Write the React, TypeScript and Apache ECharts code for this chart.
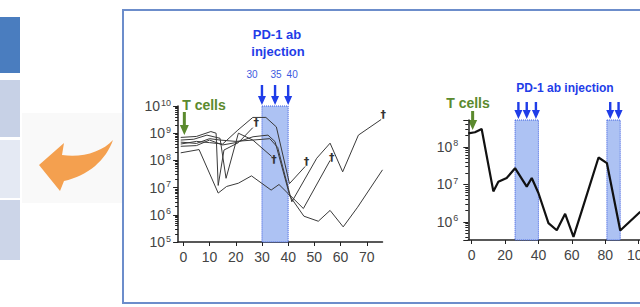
import React, { useEffect, useRef } from "react";
import * as echarts from "echarts";

// ---------- Left panel: six mice, tumour cells vs. days ----------
const leftXTicks = [0, 10, 20, 30, 40, 50, 60, 70];
const leftYRange = [1e5, 1e10];
const leftXRange = [-2, 76];

const mouse1 = [[-1, 7.0e8], [5, 7.6e8], [10.5, 1.15e9], [12.5, 1.0e9], [13.3, 1.2e7], [15.5, 2.4e8], [21, 4.5e8], [26.5, 1.6e9]];
const mouse2 = [[-1, 5.6e8], [4, 6.0e8], [9, 8.5e8], [14, 6.5e8], [16.3, 2.2e7], [21, 1.0e9], [26.5, 5.6e8], [33.7, 1.4e8]];
const mouse3 = [[-1, 4.0e8], [5, 5.0e8], [10, 4.5e8], [15, 4.0e8], [20.8, 1.3e9], [26.5, 3.8e9], [31.5, 3.8e9], [35.5, 1.7e9], [40.5, 1.4e7], [46.5, 6.0e7]];
const mouse4 = [[-1, 3.3e8], [5, 3.5e8], [10, 5.6e8], [15, 3.7e8], [20, 4.5e8], [26.6, 7.4e8], [32.3, 8.5e8], [35, 4.9e8], [40.5, 5.5e6], [45.8, 1.7e6], [56, 1.0e8]];
const mouse5 = [[-1, 4.7e8], [5, 4.2e8], [10, 6.3e8], [14, 5.6e8], [20, 5.0e8], [26.6, 5.6e8], [33, 6.3e8], [36, 3.0e8], [41.4, 3.0e6], [50.9, 1.2e8], [56, 4.3e8], [60.8, 3.8e7], [66.8, 8.5e8], [75.5, 3.2e9]];
const mouse6 = [[-1, 1.9e8], [6, 2.5e8], [13.3, 6.3e6], [16.5, 1.1e7], [21, 1.45e7], [26, 2.7e7], [33.5, 8.1e6], [36.5, 1.3e7], [40, 6.0e6], [46, 8.9e5], [51.5, 5.8e5], [56, 1.45e6], [61, 3.6e5], [66.5, 1.9e6], [76, 4.5e7]];
const leftMice = [mouse1, mouse2, mouse3, mouse4, mouse5, mouse6];
const leftDaggers = [[27.8, 2.4e9], [34.6, 1.1e8], [47, 8.9e7], [56.6, 1.26e8], [76.3, 4.7e9]];
const leftInjectionDays = [30, 35, 40];
const leftInjectionLabels = ["30", "35", "40"];
const leftWindow = [30, 40];

// ---------- Right panel: one mouse ----------
const rightXTicks = [0, 20, 40, 60, 80, 100];
const rightYRange = [3.3e5, 5.2e8];
const rightXRange = [-2, 110];
const rightMouse = [[-2, 2.3e8], [2, 2.45e8], [6, 3.0e8], [13, 6.5e6], [16, 1.17e7], [21, 1.48e7], [26, 2.7e7], [33, 8.7e6], [36, 1.48e7], [40, 5.9e6], [46, 9.3e5], [51, 6.0e5], [56, 1.65e6], [61, 4.0e5], [66, 2.0e6], [76, 5.2e7], [81, 3.7e7], [89, 5.9e5], [101, 1.86e6]];
const rightInjectionDays = [28, 33, 38.5, 83, 88];
const rightWindows = [[26, 40], [81, 89]];
const tCellDay = 0;

const NARROW = "'Liberation Sans Narrow', 'Arial Narrow', 'Liberation Sans', sans-serif";
const SANS = "'Liberation Sans', Arial, sans-serif";
const AXIS_COLOR = "#222";
const LABEL_COLOR = "#444";
const BLUE = "#1f3de8";
const GREEN = "#5b8a2e";
const SHADE = "#adc2f3";

const logLabel = (v: number) => {
  const e = Math.log10(v);
  const r = Math.round(e);
  if (Math.abs(e - r) > 0.001) return "";
  return `{b|10}{s|${r}}`;
};

const yAxisCommon = (gridIndex: number, range: number[], margin: number) => ({
  type: "log",
  logBase: 10,
  gridIndex,
  min: range[0],
  max: range[1],
  axisLine: { show: true, onZero: false, lineStyle: { color: AXIS_COLOR, width: 1.5 } },
  axisTick: { show: true, length: 5, lineStyle: { color: AXIS_COLOR } },
  minorTick: { show: true, splitNumber: 9, length: 3, lineStyle: { color: AXIS_COLOR } },
  splitLine: { show: false },
  axisLabel: {
    formatter: logLabel,
    margin,
    rich: {
      b: { fontSize: 14, fontFamily: NARROW, color: LABEL_COLOR },
      s: { fontSize: 9, fontFamily: NARROW, color: LABEL_COLOR, verticalAlign: "top", padding: [0, 0, 7, 1] },
    },
  },
});

const xAxisCommon = (gridIndex: number, range: number[], ticks: number[]) => ({
  type: "value",
  gridIndex,
  min: range[0],
  max: range[1],
  axisLine: { show: true, onZero: false, lineStyle: { color: AXIS_COLOR, width: 1.5 } },
  axisTick: { show: true, length: 4, customValues: ticks, lineStyle: { color: AXIS_COLOR } },
  axisLabel: { customValues: ticks, fontSize: 14, fontFamily: NARROW, color: LABEL_COLOR, margin: 8 },
  splitLine: { show: false },
});

const shadeStyle = { color: SHADE, borderColor: "#3558e0", borderWidth: 1, borderType: "dotted", opacity: 1 };

const option = {
  animation: false,
  backgroundColor: "#fff",
  grid: [
    { left: 178.1, top: 106, width: 204.4, height: 136 },
    { left: 468.3, top: 120, width: 187.0, height: 120 },
  ],
  xAxis: [xAxisCommon(0, leftXRange, leftXTicks), xAxisCommon(1, rightXRange, rightXTicks)],
  yAxis: [yAxisCommon(0, leftYRange, 7), yAxisCommon(1, rightYRange, 10)],
  series: [
    ...leftMice.map((d, i) => ({
      type: "line",
      xAxisIndex: 0,
      yAxisIndex: 0,
      data: d,
      symbol: "none",
      silent: true,
      lineStyle: { color: "#3a3a3a", width: 1 },
      markArea:
        i === 0
          ? {
              silent: true,
              itemStyle: shadeStyle,
              data: [[{ xAxis: leftWindow[0], yAxis: leftYRange[1] }, { xAxis: leftWindow[1], yAxis: leftYRange[0] }]],
            }
          : undefined,
    })),
    {
      type: "line",
      xAxisIndex: 1,
      yAxisIndex: 1,
      data: rightMouse,
      symbol: "none",
      silent: true,
      lineStyle: { color: "#111", width: 2.2 },
      markArea: {
        silent: true,
        itemStyle: shadeStyle,
        data: rightWindows.map((w) => [
          { xAxis: w[0], yAxis: rightYRange[1] },
          { xAxis: w[1], yAxis: rightYRange[0] },
        ]),
      },
    },
  ],
};

const downArrow = (cx: number, top: number, bottom: number, color: string, shaftW: number, headW: number, headH: number) => ({
  type: "polygon",
  silent: true,
  shape: {
    points: [
      [cx - shaftW / 2, top],
      [cx + shaftW / 2, top],
      [cx + shaftW / 2, bottom - headH],
      [cx + headW / 2, bottom - headH],
      [cx, bottom],
      [cx - headW / 2, bottom - headH],
      [cx - shaftW / 2, bottom - headH],
    ],
  },
  style: { fill: color },
});

const text = (t: string, x: number, y: number, font: string, fill: string) => ({
  type: "text",
  x,
  y,
  silent: true,
  z: 10,
  style: { text: t, font, fill, textAlign: "center", textVerticalAlign: "middle" },
});

const ARROW_PATH = "M39 165 L64 143 L62 155 C82 158 102 152 113 140 C106 160 88 176 64 181 L60 191 Z";
let registered = false;

export default function App() {
  const ref = useRef<HTMLDivElement>(null);
  useEffect(() => {
    if (!ref.current) return;
    if (!registered) {
      echarts.graphic.registerShape("orangeArrow", echarts.graphic.extendPath(ARROW_PATH, {}));
      registered = true;
    }
    const chart = echarts.init(ref.current, null, { renderer: "svg" });
    chart.setOption(option as any);

    const px = (gi: number, x: number, y: number) => chart.convertToPixel({ gridIndex: gi } as any, [x, y]) as number[];
    const leftTop = px(0, 0, leftYRange[1])[1];
    const rightTop = px(1, 0, rightYRange[1])[1];

    const graphics: any[] = [
      // side panel boxes
      { type: "rect", silent: true, shape: { x: 0, y: 17, width: 20, height: 56 }, style: { fill: "#4a7dbf" } },
      { type: "rect", silent: true, shape: { x: 0, y: 80, width: 20, height: 57 }, style: { fill: "#c7d1e6" } },
      { type: "rect", silent: true, shape: { x: 0, y: 140, width: 20, height: 58 }, style: { fill: "#e4e9f3" } },
      { type: "rect", silent: true, shape: { x: 0, y: 200, width: 20, height: 60 }, style: { fill: "#ccd5e8" } },
      { type: "rect", silent: true, shape: { x: 22, y: 113, width: 100, height: 90 }, style: { fill: "#f9f9f9" } },
      { type: "orangeArrow", silent: true, x: 0, y: 0, scaleX: 1, scaleY: 1, style: { fill: "#f4a04f" } },
      // panel frame
      { type: "rect", silent: true, shape: { x: 123, y: 10, width: 600, height: 293 }, style: { fill: "none", stroke: "#6c8dcb", lineWidth: 2 } },
      // annotations
      text("PD-1 ab", 277, 34, `bold 13px ${SANS}`, BLUE),
      text("injection", 278, 51, `bold 13px ${SANS}`, BLUE),
      text("T cells", 204, 105, `bold 14px ${SANS}`, GREEN),
      text("PD-1 ab injection", 565, 88, `bold 12px ${SANS}`, BLUE),
      text("T cells", 468, 103, `bold 14px ${SANS}`, GREEN),
    ];
    leftDaggers.forEach((d) => {
      const p = px(0, d[0], d[1]);
      graphics.push(text("†", p[0], p[1], `bold 11px 'DejaVu Sans', sans-serif`, "#333"));
    });
    const labelOffsets = [-10, 1, 4];
    leftInjectionDays.forEach((d, i) => {
      const x = px(0, d, leftYRange[1])[0];
      graphics.push(downArrow(x, 85, leftTop - 1, BLUE, 2.4, 8, 9));
      graphics.push(text(leftInjectionLabels[i], x + labelOffsets[i], 74, `10px ${SANS}`, "#3d5ae0"));
    });
    rightInjectionDays.forEach((d) => {
      const x = px(1, d, rightYRange[1])[0];
      graphics.push(downArrow(x, 102, rightTop - 1, BLUE, 2.4, 8, 9));
    });
    const gxL = px(0, tCellDay, leftYRange[1])[0];
    graphics.push(downArrow(gxL + 1, 112, 135, GREEN, 3, 9, 10));
    const gxR = px(1, tCellDay, rightYRange[1])[0];
    graphics.push(downArrow(gxR + 1, 111, 130, GREEN, 3, 9, 10));

    chart.setOption({ graphic: graphics });
    return () => chart.dispose();
  }, []);
  return (
    <div style={{ position: "fixed", left: 0, top: 0, width: 640, height: 307, overflow: "hidden", background: "#fff" }}>
      <div ref={ref} style={{ width: 700, height: 307 }} />
    </div>
  );
}
